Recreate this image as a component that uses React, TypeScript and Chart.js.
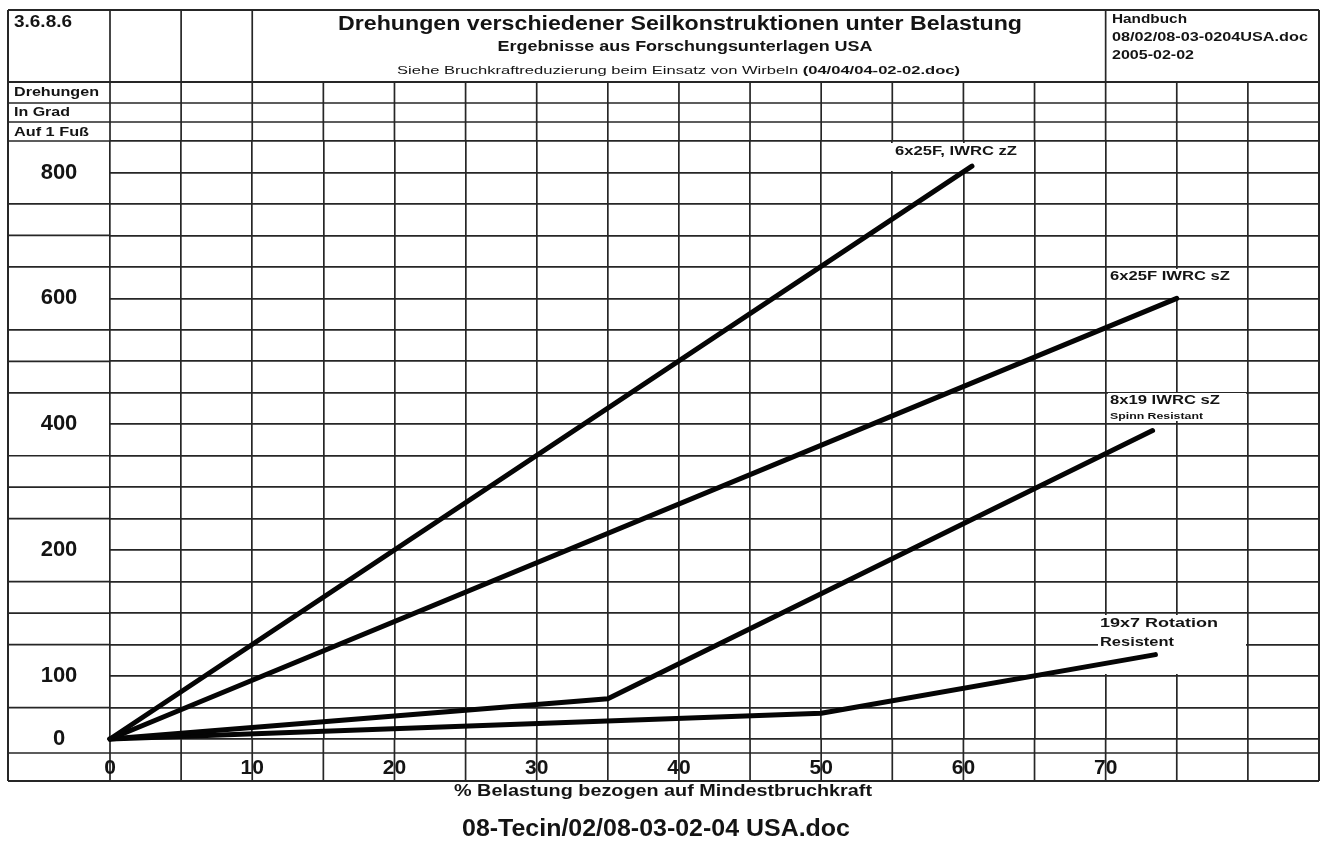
import React, { useEffect, useRef } from 'react';
import { Chart, registerables, LinearScale } from 'chart.js';

// ---------------- data ----------------
const SERIES_LABELS = ['6x25F, IWRC zZ', '6x25F IWRC sZ', '8x19 IWRC sZ', '19x7 Rotation Resistent'];
const LOAD_6x25F_zZ = [0, 60.6];
const TURNS_6x25F_zZ = [0, 810];
const LOAD_6x25F_sZ = [0, 75];
const TURNS_6x25F_sZ = [0, 600];
const LOAD_8x19_sZ = [0, 35, 73.3];
const TURNS_8x19_sZ = [0, 64, 390];
const LOAD_19x7 = [0, 50, 73.5];
const TURNS_19x7 = [0, 41, 117];

const X_TICK_LABELS = [0, 10, 20, 30, 40, 50, 60, 70];
const Y_TICK_LABELS = [0, 100, 200, 400, 600, 800];
const X_GRID = [0, 5, 10, 15, 20, 25, 30, 35, 40, 45, 50, 55, 60, 65, 70, 75, 80, 85];
const Y_GRID = [0, 50, 100, 125, 150, 175, 200, 250, 300, 350, 400, 450, 500, 550, 600, 650, 700, 750, 800, 850];
const X_HEADER_DIVIDERS = [0, 5, 10, 70];

// the printed y axis is not linear: 0..100 and 100..200 have different steps
const Y_BREAK_VALUES = [0, 100, 200, 850];
const Y_BREAK_ROWS = [0, 2, 6, 19];

function interp(v: number, a: number[], b: number[]) {
  let i = 0;
  while (i < a.length - 2 && v > a[i + 1]) i++;
  const t = (v - a[i]) / (a[i + 1] - a[i]);
  return b[i] + t * (b[i + 1] - b[i]);
}
const valueToRow = (v: number) => interp(v, Y_BREAK_VALUES, Y_BREAK_ROWS);
const rowToValue = (r: number) => interp(r, Y_BREAK_ROWS, Y_BREAK_VALUES);

class PiecewiseScale extends LinearScale {
  static id = 'piecewise';
  static defaults = {};
  getPixelForValue(value: any) {
    if (value === null || value === undefined || isNaN(value)) return NaN;
    const r0 = valueToRow(this.min);
    const r1 = valueToRow(this.max);
    return this.getPixelForDecimal((valueToRow(value) - r0) / (r1 - r0));
  }
  getValueForPixel(pixel: number) {
    const r0 = valueToRow(this.min);
    const r1 = valueToRow(this.max);
    return rowToValue(r0 + this.getDecimalForPixel(pixel) * (r1 - r0));
  }
}

Chart.register(...registerables, PiecewiseScale as any);

const FONT = '"Liberation Sans", Arial, sans-serif';
const INK = '#141414';
const GRID = '#262626';

function drawText(ctx: CanvasRenderingContext2D, s: string, x: number, y: number, size: number, bold: boolean, align: CanvasTextAlign, width?: number) {
  ctx.font = `${bold ? 'bold ' : ''}${size}px ${FONT}`;
  const w = ctx.measureText(s).width;
  const sx = width ? width / w : 1;
  ctx.save();
  ctx.translate(x, y);
  ctx.scale(sx, 1);
  ctx.textAlign = align;
  ctx.textBaseline = 'middle';
  ctx.fillStyle = INK;
  ctx.fillText(s, 0, 0);
  ctx.restore();
}

function line(ctx: CanvasRenderingContext2D, x1: number, y1: number, x2: number, y2: number, w: number) {
  ctx.save();
  ctx.strokeStyle = GRID;
  ctx.lineWidth = w;
  ctx.beginPath();
  ctx.moveTo(x1, y1);
  ctx.lineTo(x2, y2);
  ctx.stroke();
  ctx.restore();
}

const tablePlugin = {
  id: 'tablePlugin',
  beforeDraw(chart: any) {
    const ctx = chart.ctx;
    ctx.save();
    ctx.fillStyle = '#ffffff';
    ctx.fillRect(0, 0, chart.width, chart.height);
    ctx.restore();
  },
  beforeDatasetsDraw(chart: any) {
    const ctx: CanvasRenderingContext2D = chart.ctx;
    const xs = chart.scales.x;
    const ys = chart.scales.y;
    const L = 8;
    const T = 10;
    const R = xs.getPixelForValue(85);
    const X0 = xs.getPixelForValue(0);
    const H1 = 82, H2 = 103, H3 = 122;
    const PT = ys.getPixelForValue(850);
    const PB = ys.getPixelForValue(0);
    const XR = PB + 14;
    const B = PB + 42;

    // horizontal table lines
    line(ctx, L, T, R, T, 2);
    line(ctx, L, H1, R, H1, 2);
    line(ctx, L, H2, R, H2, 1.7);
    line(ctx, L, H3, R, H3, 1.7);
    Y_GRID.forEach((v) => {
      if (!Y_TICK_LABELS.includes(v)) {
        const y = ys.getPixelForValue(v);
        line(ctx, L, y, X0, y, 1.7);
      }
    });
    line(ctx, L, XR, R, XR, 1.7);
    line(ctx, L, B, R, B, 2);

    // vertical table lines
    X_GRID.forEach((v) => {
      const x = xs.getPixelForValue(v);
      line(ctx, x, H1, x, PT, 1.7);
      line(ctx, x, PB, x, B, 1.7);
    });
    X_HEADER_DIVIDERS.forEach((v) => {
      const x = xs.getPixelForValue(v);
      line(ctx, x, T, x, H1, 1.7);
    });
    line(ctx, L, T, L, B, 2);
    line(ctx, R, T, R, B, 2);

    // white label boxes
    ctx.save();
    ctx.fillStyle = '#ffffff';
    ctx.fillRect(890, 143, 140, 28);
    ctx.fillRect(1108, 269, 138, 27);
    ctx.fillRect(1108, 393, 138, 28);
    ctx.fillRect(1098, 615, 148, 59);
    ctx.restore();

    // header texts
    drawText(ctx, '3.6.8.6', 14, 22, 17, true, 'left', 58);
    drawText(ctx, 'Drehungen verschiedener Seilkonstruktionen unter Belastung', 680, 24, 20, true, 'center', 684);
    drawText(ctx, 'Ergebnisse aus Forschungsunterlagen USA', 685, 47, 15, true, 'center', 375);
    {
      const p1 = 'Siehe Bruchkraftreduzierung beim Einsatz von Wirbeln ';
      const p2 = '(04/04/04-02-02.doc)';
      ctx.font = `11px ${FONT}`;
      const w1 = ctx.measureText(p1).width;
      ctx.font = `bold 11px ${FONT}`;
      const w2 = ctx.measureText(p2).width;
      const total = 563;
      const sx = total / (w1 + w2);
      drawText(ctx, p1, 397, 71, 11, false, 'left', w1 * sx);
      drawText(ctx, p2, 397 + w1 * sx, 71, 11, true, 'left', w2 * sx);
    }
    drawText(ctx, 'Handbuch', 1112, 19, 13, true, 'left', 75);
    drawText(ctx, '08/02/08-03-0204USA.doc', 1112, 37, 13, true, 'left', 196);
    drawText(ctx, '2005-02-02', 1112, 55, 13, true, 'left', 82);

    // y axis caption
    drawText(ctx, 'Drehungen', 14, 92, 13, true, 'left', 85);
    drawText(ctx, 'In Grad', 14, 112, 13, true, 'left', 56);
    drawText(ctx, 'Auf 1 Fuß', 14, 132, 13, true, 'left', 75);

    // tick labels
    const yLabX = (L + X0) / 2;
    Y_TICK_LABELS.forEach((v) => {
      drawText(ctx, String(v), yLabX, ys.getPixelForValue(v), 22, true, 'center');
    });
    X_TICK_LABELS.forEach((v) => {
      drawText(ctx, String(v), xs.getPixelForValue(v), (XR + B) / 2 + 1, 21, true, 'center');
    });
    drawText(ctx, '% Belastung bezogen auf Mindestbruchkraft', 663, 792, 16, true, 'center', 418);
    drawText(ctx, '08-Tecin/02/08-03-02-04 USA.doc', 656, 830, 23, true, 'center', 388);

    // series labels
    drawText(ctx, SERIES_LABELS[0], 895, 152, 12, true, 'left', 122);
    drawText(ctx, SERIES_LABELS[1], 1110, 276, 13, true, 'left', 120);
    drawText(ctx, SERIES_LABELS[2], 1110, 400, 13, true, 'left', 110);
    drawText(ctx, 'Spinn Resistant', 1110, 417, 9, true, 'left', 93);
    drawText(ctx, '19x7 Rotation', 1100, 623, 13, true, 'left', 118);
    drawText(ctx, 'Resistent', 1100, 642, 13, true, 'left', 74);
  },
};

function pts(xs: number[], ys: number[]) {
  return xs.map((x, i) => ({ x, y: ys[i] }));
}

export default function App() {
  const ref = useRef<HTMLCanvasElement | null>(null);
  useEffect(() => {
    if (!ref.current) return;
    const lineStyle = {
      borderColor: '#050505',
      borderWidth: 5,
      pointRadius: 0,
      borderCapStyle: 'round' as const,
      borderJoinStyle: 'round' as const,
      tension: 0,
      fill: false,
      clip: false as any,
    };
    const chart = new Chart(ref.current, {
      type: 'line',
      data: {
        datasets: [
          { label: SERIES_LABELS[0], data: pts(LOAD_6x25F_zZ, TURNS_6x25F_zZ), ...lineStyle },
          { label: SERIES_LABELS[1], data: pts(LOAD_6x25F_sZ, TURNS_6x25F_sZ), ...lineStyle },
          { label: SERIES_LABELS[2], data: pts(LOAD_8x19_sZ, TURNS_8x19_sZ), ...lineStyle },
          { label: SERIES_LABELS[3], data: pts(LOAD_19x7, TURNS_19x7), ...lineStyle },
        ],
      },
      options: {
        animation: false,
        responsive: false,
        devicePixelRatio: 1,
        layout: { padding: { left: 110, right: 7, top: 141, bottom: 107 } },
        plugins: { legend: { display: false }, tooltip: { enabled: false }, title: { display: false } },
        scales: {
          x: {
            type: 'linear',
            min: 0,
            max: 85,
            afterBuildTicks: (s: any) => { s.ticks = X_GRID.map((v) => ({ value: v })); },
            ticks: { display: false },
            grid: { color: GRID, lineWidth: 1.7, drawTicks: false },
            border: { display: false },
          },
          y: {
            type: 'piecewise' as any,
            min: 0,
            max: 850,
            afterBuildTicks: (s: any) => { s.ticks = Y_GRID.map((v) => ({ value: v })); },
            ticks: { display: false },
            grid: { color: GRID, lineWidth: 1.7, drawTicks: false },
            border: { display: false },
          },
        },
      } as any,
      plugins: [tablePlugin],
    });
    return () => chart.destroy();
  }, []);
  return (
    <div style={{ position: 'absolute', left: 0, top: 0, width: 1326, height: 846, background: '#fff' }}>
      <canvas ref={ref} width={1326} height={846} style={{ display: 'block' }} />
    </div>
  );
}
